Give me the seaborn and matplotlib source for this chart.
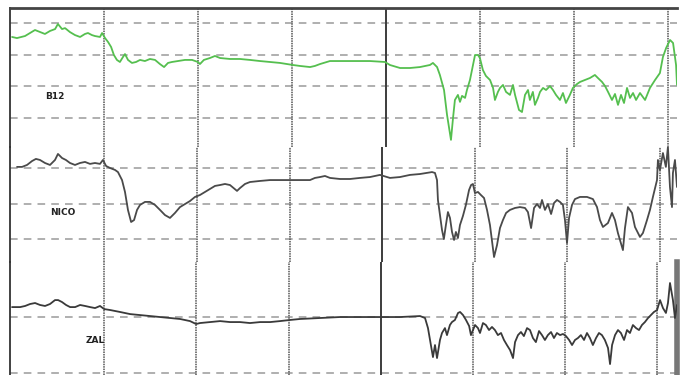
import numpy as np
import pandas as pd
import matplotlib
matplotlib.use("Agg")
import matplotlib.pyplot as plt
import seaborn as sns

# ---------------------------------------------------------------
# IR spectra (wavenumber in cm-1, transmittance in arbitrary %)
# ---------------------------------------------------------------
b12_wn = [3989, 3963, 3920, 3894, 3867, 3840, 3814, 3787, 3760, 3745, 3723, 3707,
          3681, 3654, 3627, 3601, 3585, 3564, 3548, 3521, 3510, 3494, 3478, 3462,
          3447, 3431, 3415, 3399, 3388, 3372, 3351, 3329, 3308, 3282, 3255, 3228,
          3202, 3180, 3159, 3138, 3106, 3069, 3031, 3000, 2989, 2968, 2936, 2909,
          2882, 2829, 2776, 2723, 2670, 2616, 2563, 2494, 2457, 2403, 2377, 2350,
          2297, 2244, 2164, 2084, 2004, 1978, 1924, 1871, 1818, 1765, 1749, 1727,
          1712, 1690, 1674, 1653, 1642, 1632, 1616, 1605, 1594, 1578, 1568, 1552,
          1536, 1525, 1509, 1499, 1483, 1467, 1445, 1429, 1419, 1403, 1392, 1376,
          1360, 1339, 1323, 1312, 1291, 1275, 1259, 1243, 1233, 1217, 1206, 1190,
          1179, 1163, 1147, 1126, 1110, 1094, 1073, 1057, 1041, 1020, 1004, 982,
          966, 940, 913, 887, 871, 849, 833, 817, 796, 780, 764, 748, 732, 716,
          700, 684, 668, 647, 620, 594, 567, 541, 525, 508, 487, 471, 455, 450]
b12_t = [71.2, 70.5, 71.8, 73.7, 75.6, 74.3, 73.1, 75.0, 76.2, 79.4, 76.2, 76.8,
         74.3, 72.4, 71.2, 73.1, 73.7, 72.4, 71.8, 71.2, 73.7, 70.5, 68.0, 64.9,
         59.8, 56.7, 55.4, 58.5, 60.4, 56.7, 54.8, 55.4, 56.7, 56.0, 57.3, 56.7,
         54.1, 52.2, 54.8, 55.4, 56.0, 56.7, 56.7, 55.4, 54.1, 56.7, 57.9, 59.2,
         57.9, 57.3, 57.3, 56.7, 56.0, 55.4, 54.8, 53.5, 52.9, 52.2, 52.9, 54.1,
         56.0, 56.0, 56.0, 56.0, 55.4, 53.5, 51.6, 51.6, 52.2, 53.5, 54.8, 52.2,
         47.2, 37.7, 22.0, 6.2, 20.1, 31.4, 34.6, 30.2, 34.0, 32.7, 37.7, 44.0,
         53.5, 59.8, 59.8, 57.9, 50.3, 46.6, 44.0, 39.0, 31.4, 36.5, 39.0, 40.9,
         36.5, 34.6, 40.9, 34.6, 25.1, 23.8, 34.6, 37.7, 31.4, 36.5, 28.3, 32.7,
         36.5, 39.0, 37.7, 40.2, 37.7, 34.6, 31.4, 35.8, 29.5, 34.6, 39.0, 41.5,
         42.8, 44.0, 45.3, 47.2, 45.3, 42.8, 40.2, 36.5, 31.4, 35.2, 28.3, 34.6,
         29.5, 39.0, 32.7, 35.8, 31.4, 35.8, 31.4, 39.0, 44.0, 48.4, 58.5, 64.2,
         69.3, 67.4, 53.5, 40.9]

nico_wn = [3972, 3945, 3918, 3891, 3870, 3848, 3821, 3794, 3767, 3751, 3729, 3708,
           3686, 3659, 3632, 3605, 3578, 3551, 3524, 3508, 3491, 3470, 3443, 3427,
           3405, 3389, 3373, 3356, 3340, 3324, 3308, 3281, 3254, 3227, 3200, 3173,
           3146, 3119, 3092, 3065, 3038, 3011, 2984, 2957, 2930, 2903, 2876, 2849,
           2822, 2784, 2768, 2741, 2714, 2660, 2606, 2552, 2498, 2444, 2390, 2363,
           2336, 2309, 2282, 2228, 2174, 2120, 2066, 2012, 1958, 1904, 1850, 1796,
           1731, 1715, 1704, 1699, 1688, 1677, 1667, 1656, 1645, 1634, 1623, 1612,
           1602, 1591, 1580, 1564, 1548, 1531, 1520, 1510, 1499, 1483, 1467, 1450,
           1434, 1418, 1396, 1380, 1364, 1348, 1331, 1310, 1283, 1256, 1229, 1213,
           1196, 1180, 1164, 1148, 1137, 1121, 1105, 1088, 1072, 1056, 1040, 1024,
           1013, 1002, 991, 975, 959, 932, 894, 862, 840, 824, 808, 781, 759, 743,
           727, 700, 689, 673, 651, 635, 608, 592, 570, 554, 538, 516, 511, 500,
           484, 468, 457, 446, 435, 430, 419, 408]
nico_t = [80.6, 80.6, 81.7, 83.9, 85.1, 84.5, 82.8, 81.7, 84.5, 87.9, 85.6, 84.5,
          82.8, 81.7, 82.8, 83.4, 82.3, 82.8, 82.3, 84.5, 81.1, 80.0, 78.9, 77.7,
          73.2, 66.5, 56.4, 49.6, 50.7, 56.4, 59.2, 60.9, 60.9, 59.2, 56.4, 53.5,
          51.9, 54.7, 58.0, 59.7, 61.4, 63.7, 64.8, 66.5, 68.2, 69.9, 70.4, 71.0,
          70.4, 67.1, 68.7, 71.0, 72.1, 72.7, 73.2, 73.2, 73.2, 73.2, 73.2, 74.4,
          74.9, 75.5, 74.4, 73.8, 73.8, 74.4, 74.9, 76.1, 74.4, 74.9, 76.1, 76.6,
          77.7, 77.2, 73.2, 62.0, 53.5, 45.1, 40.0, 47.9, 55.2, 51.9, 44.0, 39.5,
          44.0, 40.6, 47.9, 53.0, 59.2, 67.6, 70.4, 71.0, 65.9, 66.5, 64.8, 63.1,
          56.4, 47.9, 29.9, 36.6, 46.2, 50.7, 54.7, 56.4, 57.5, 58.0, 57.5, 55.2,
          46.2, 57.5, 59.7, 57.5, 62.0, 56.4, 59.7, 54.1, 60.3, 62.0, 60.9, 59.2,
          50.7, 37.8, 51.9, 59.2, 62.5, 63.7, 63.7, 62.5, 58.0, 50.7, 46.8, 49.0,
          54.7, 50.7, 43.4, 33.8, 46.2, 58.0, 54.7, 46.8, 41.2, 43.4, 50.7, 56.4,
          63.7, 73.2, 84.5, 78.9, 88.4, 80.6, 91.8, 69.3, 58.0, 77.2, 84.5, 69.3]

zal_wn = [3999, 3955, 3928, 3901, 3874, 3847, 3820, 3793, 3766, 3749, 3728, 3706,
          3684, 3657, 3630, 3603, 3576, 3549, 3522, 3500, 3467, 3413, 3359, 3305,
          3251, 3196, 3142, 3088, 3034, 3001, 2980, 2925, 2871, 2817, 2763, 2709,
          2654, 2600, 2546, 2492, 2438, 2329, 2221, 2112, 2004, 1896, 1787, 1760,
          1744, 1728, 1717, 1706, 1695, 1679, 1668, 1652, 1641, 1625, 1614, 1598,
          1581, 1570, 1554, 1538, 1521, 1511, 1500, 1489, 1473, 1462, 1446, 1430,
          1413, 1397, 1381, 1365, 1348, 1332, 1316, 1299, 1283, 1272, 1256, 1240,
          1224, 1207, 1191, 1175, 1159, 1142, 1126, 1110, 1094, 1077, 1061, 1045,
          1028, 1012, 996, 979, 963, 947, 931, 915, 898, 882, 866, 850, 833, 817,
          801, 785, 768, 757, 746, 730, 714, 698, 681, 665, 649, 633, 616, 600,
          584, 568, 551, 535, 519, 502, 486, 470, 454, 443, 432, 421, 416, 405, 394]
zal_t = [67.1, 67.1, 67.9, 69.3, 70.0, 68.6, 67.9, 69.3, 72.1, 72.1, 70.7, 68.6,
         67.1, 67.1, 68.6, 67.9, 67.1, 66.4, 67.9, 65.7, 65.0, 63.6, 62.1, 61.4,
         60.7, 60.0, 59.3, 58.6, 57.1, 55.0, 55.7, 56.4, 57.1, 56.4, 56.4, 55.7,
         56.4, 56.4, 57.1, 57.9, 58.6, 59.3, 60.0, 60.0, 60.0, 60.0, 60.7, 59.3,
         52.1, 40.0, 31.4, 40.0, 30.7, 43.6, 48.6, 52.1, 47.1, 54.3, 56.4, 57.9,
         62.9, 63.6, 61.4, 57.9, 53.6, 47.1, 50.7, 54.3, 52.1, 48.6, 55.7, 54.3,
         50.7, 52.9, 50.7, 47.1, 48.6, 43.6, 40.0, 36.4, 30.7, 42.1, 47.1, 49.3,
         46.4, 52.1, 50.7, 45.0, 42.1, 50.0, 47.1, 43.6, 47.1, 49.3, 45.0, 48.6,
         47.1, 47.9, 46.4, 43.6, 40.0, 43.6, 45.0, 47.1, 43.6, 48.6, 45.0, 40.0,
         45.0, 48.6, 47.1, 43.6, 37.9, 26.4, 40.0, 47.1, 50.7, 48.6, 43.6, 50.7,
         48.6, 54.3, 52.1, 50.7, 54.3, 56.4, 59.3, 61.4, 63.6, 65.0, 72.1, 66.4,
         62.9, 70.0, 84.3, 75.7, 72.1, 59.3, 68.6]

grid_wn = [3500, 3000, 2500, 2000, 1500, 1000, 500]
labels = ["B12", "NICO", "ZAL"]

# ---------------------------------------------------------------
sns.set_theme(style="white")
plt.rcParams["font.family"] = ["DejaVu Sans"]

fig = plt.figure(figsize=(6.8, 3.75), dpi=100)
W, H = 680.0, 375.0


def panel_axes(top_px, bottom_px):
    return fig.add_axes([10 / W, 1 - bottom_px / H, 667 / W, (bottom_px - top_px) / H])


panels = [
    dict(ax=panel_axes(8, 147), wn=b12_wn, t=b12_t, color="#55bf4f",
         xlim=(4000, 450), ylim=(1.7, 89.5), dashes=[80, 60, 40, 20],
         label=labels[0], label_pos=(3760, 33.3)),
    dict(ax=panel_axes(147, 262), wn=nico_wn, t=nico_t, color="#4a4a4a",
         xlim=(4010, 408), ylim=(27.1, 91.8), dashes=[80, 60, 40],
         label=labels[1], label_pos=(3724, 55.2)),
    dict(ax=panel_axes(262, 375), wn=zal_wn, t=zal_t, color="#3a3a3a",
         xlim=(4010, 394), ylim=(18.6, 99.3), dashes=[60, 20],
         label=labels[2], label_pos=(3549, 42.9)),
]

for i, p in enumerate(panels):
    ax = p["ax"]
    ax.set_facecolor("none")
    ax.set_xlim(*p["xlim"])
    ax.set_ylim(*p["ylim"])

    for lvl in p["dashes"]:
        ax.axhline(lvl, color="#9a9a9a", lw=1.1, ls=(0, (5, 4)), zorder=1)
    for wn in grid_wn:
        if wn == 2000:
            ax.axvline(wn, color="#3c3c3c", lw=1.4, ls="-", zorder=1)
        else:
            ax.axvline(wn, color="#555555", lw=1.1, ls=(0, (1, 0.6)), zorder=1)

    df = pd.DataFrame({"wavenumber": p["wn"], "T": p["t"]})
    sns.lineplot(data=df, x="wavenumber", y="T", ax=ax, sort=False,
                 estimator=None, color=p["color"], lw=1.3, zorder=3)

    ax.text(p["label_pos"][0], p["label_pos"][1], p["label"], ha="center",
            va="center", fontsize=6.5, fontweight="bold", color="#222222")

    ax.set_xticks([])
    ax.set_yticks([])
    ax.set_xlabel("")
    ax.set_ylabel("")
    for side in ("top", "bottom", "right"):
        ax.spines[side].set_visible(False)
    ax.spines["left"].set_color("#333333")
    ax.spines["left"].set_linewidth(1.3)

# frame pieces
panels[0]["ax"].spines["top"].set_visible(True)
panels[0]["ax"].spines["top"].set_color("#444444")
panels[0]["ax"].spines["top"].set_linewidth(2.0)
panels[2]["ax"].spines["right"].set_visible(True)
panels[2]["ax"].spines["right"].set_color("#777777")
panels[2]["ax"].spines["right"].set_linewidth(4.0)

fig.savefig("out.png", dpi=100, facecolor="white")
